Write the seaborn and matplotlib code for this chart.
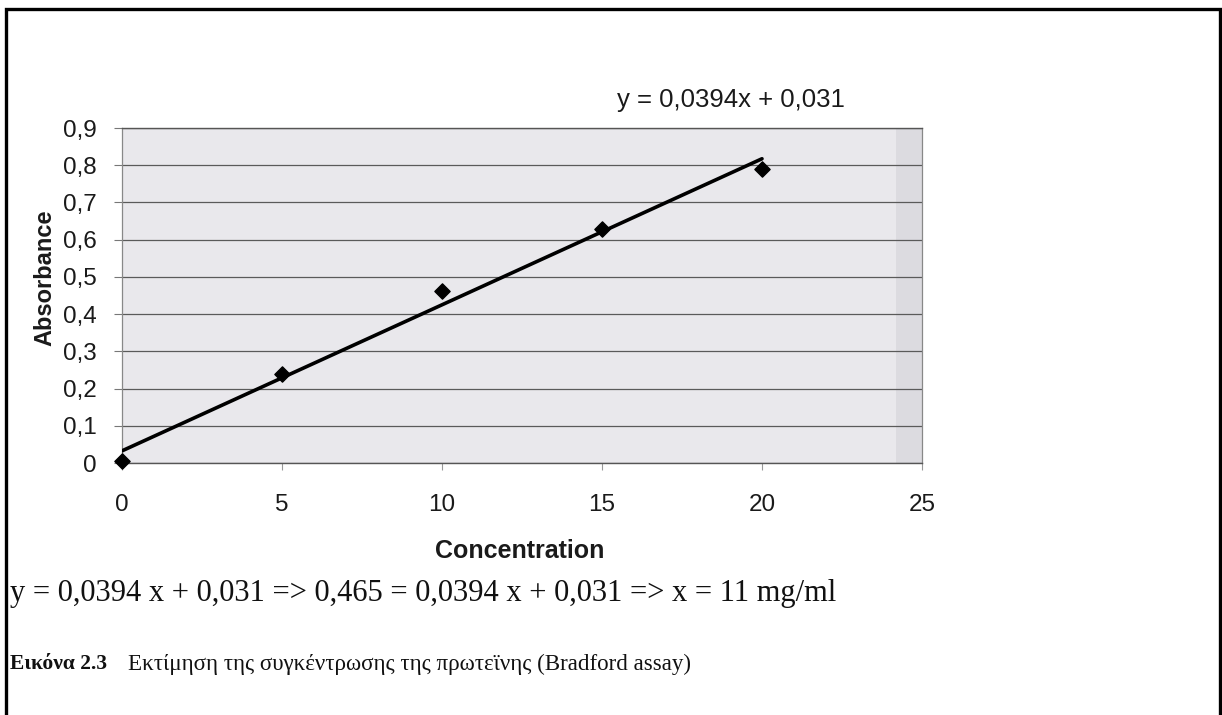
import matplotlib
matplotlib.use("Agg")
import matplotlib.pyplot as plt
import seaborn as sns
import pandas as pd
from matplotlib.patches import Rectangle

# Data
concentration = [0, 5, 10, 15, 20]
absorbance = [0.005, 0.238, 0.462, 0.630, 0.790]
y_ticks = [0, 0.1, 0.2, 0.3, 0.4, 0.5, 0.6, 0.7, 0.8, 0.9]
y_tick_labels = ["0", "0,1", "0,2", "0,3", "0,4", "0,5", "0,6", "0,7", "0,8", "0,9"]
x_ticks = [0, 5, 10, 15, 20, 25]
x_tick_labels = ["0", "5", "10", "15", "20", "25"]
trend_label = "y = 0,0394x + 0,031"
equation_text = "y = 0,0394 x + 0,031 => 0,465 = 0,0394 x + 0,031 => x = 11 mg/ml"
caption_bold = "Εικόνα 2.3"
caption_text = "Εκτίμηση της συγκέντρωσης της πρωτεϊνης (Bradford assay)"

df = pd.DataFrame({"Concentration": concentration, "Absorbance": absorbance})

sns.set_theme(style="white")
plt.rcParams["font.family"] = ["Liberation Sans", "DejaVu Sans"]

fig = plt.figure(figsize=(12.22, 7.15), dpi=100)
W, H = 1222, 715
ax = fig.add_axes([122 / W, 1 - 463 / H, 800 / W, 335 / H])
ax.set_facecolor("#e9e8ec")

# darker strip near right edge (scan look)
ax.axvspan(24.2, 25, color="#dcdbe0", zorder=0, lw=0)

sns.regplot(data=df, x="Concentration", y="Absorbance", ax=ax, ci=None,
            marker="D", color="black",
            scatter_kws={"s": 60, "zorder": 4, "edgecolor": "black", "alpha": 1,
                         "clip_on": False},
            line_kws={"lw": 2.6, "zorder": 3})

ax.set_xlim(0, 25)
ax.set_ylim(0, 0.9)
ax.set_yticks(y_ticks)
ax.set_yticklabels(y_tick_labels)
ax.set_xticks(x_ticks)
ax.set_xticklabels(x_tick_labels)
ax.yaxis.grid(True, color="#5a5a5a", lw=0.9, zorder=1)
ax.xaxis.grid(False)
ax.set_axisbelow(True)

ax.tick_params(axis="y", which="both", left=True, length=6, width=0.8,
               color="#777777", labelsize=17.5, pad=12, labelcolor="#1a1a1a")
ax.tick_params(axis="x", which="both", bottom=True, length=5, width=0.8,
               color="#999999", labelsize=17.5, pad=17, labelcolor="#1a1a1a")

for side in ["left", "right"]:
    ax.spines[side].set_color("#888888")
    ax.spines[side].set_linewidth(0.9)
for side in ["top", "bottom"]:
    ax.spines[side].set_color("#555555")
    ax.spines[side].set_linewidth(1.0)

ax.set_xlabel("Concentration", fontsize=18, fontweight="bold", color="#1a1a1a")
ax.set_ylabel("Absorbance", fontsize=17, fontweight="bold", color="#1a1a1a")
ax.xaxis.set_label_coords(0.4975, -0.228)
ax.yaxis.set_label_coords(-0.082, 0.552)

# trendline label
fig.text(617 / W, 1 - 100 / H, trend_label, fontsize=18.5, color="#1a1a1a",
         ha="left", va="center")

# equation line and caption below the chart
fig.text(10 / W, 1 - 594 / H, equation_text, fontsize=22,
         family=["Liberation Serif", "DejaVu Serif"], ha="left", va="center",
         color="#111111")
fig.text(10 / W, 1 - 664 / H, caption_bold, fontsize=15.5, fontweight="bold",
         family=["Liberation Serif", "DejaVu Serif"], ha="left", va="center",
         color="#111111")
fig.text(128 / W, 1 - 664 / H, caption_text, fontsize=16.6,
         family=["Liberation Serif", "DejaVu Serif"], ha="left", va="center",
         color="#111111")

# outer frame
fig.patches.append(Rectangle((6 / W, -0.05), (1220 - 6) / W, 1.05 - 9 / H,
                             transform=fig.transFigure, fill=False,
                             edgecolor="black", lw=2.4))

fig.savefig("out.png", dpi=100, facecolor="white")
